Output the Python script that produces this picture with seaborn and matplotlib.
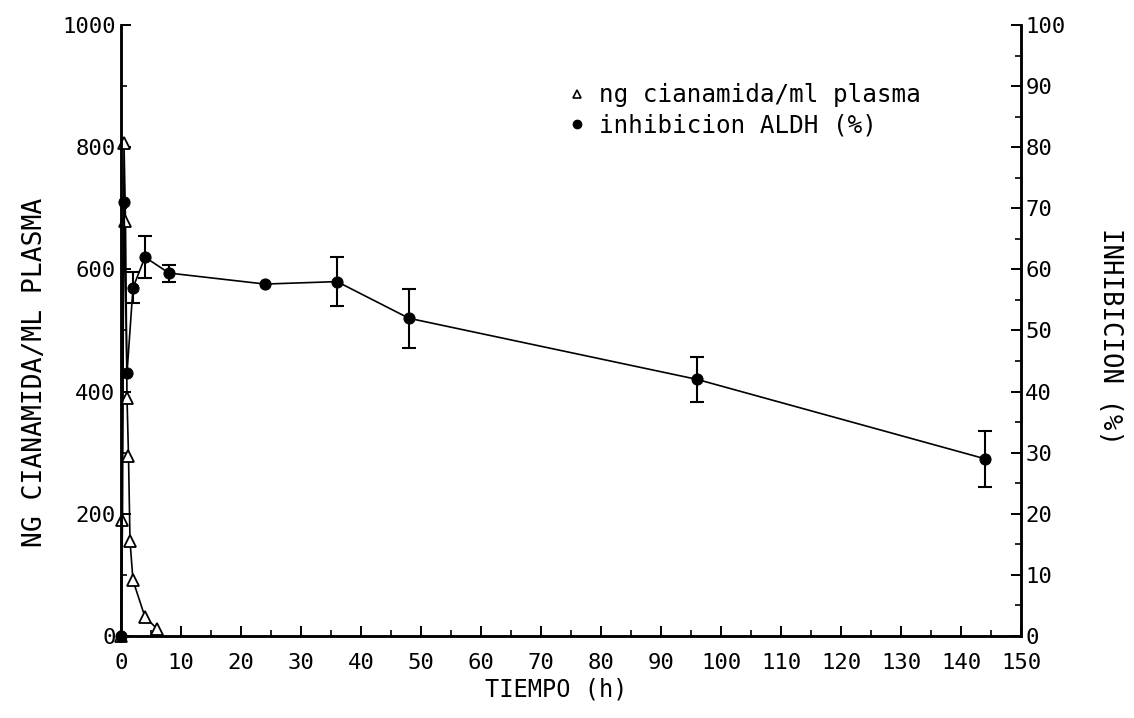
import numpy as np
import matplotlib
matplotlib.use("Agg")
import matplotlib.pyplot as plt
from matplotlib.lines import Line2D
import seaborn as sns

# Plasma cyanamide concentration (ng/ml) over time (h)
t_cian = [0, 0.25, 0.5, 0.75, 1, 1.25, 1.5, 2, 4, 6]
cianamida = [0, 190, 807, 679, 390, 295, 156, 91, 31, 12]

# ALDH inhibition (%) over time (h), with error bars
t_inh = [0, 0.5, 1, 2, 4, 8, 24, 36, 48, 96, 144]
inhibicion = [0, 71, 43, 57, 62, 59.4, 57.6, 58, 52, 42, 29]
err_inh = [0, 0, 0, 2.5, 3.4, 1.4, 0, 4, 4.8, 3.7, 4.6]

x_ticks = list(range(0, 151, 10))
left_ticks = list(range(0, 1001, 200))
right_ticks = list(range(0, 101, 10))

sns.set_style("ticks")
plt.rcParams["font.family"] = ["DejaVu Sans Mono"]
plt.rcParams["text.color"] = "black"
plt.rcParams["axes.labelcolor"] = "black"
plt.rcParams["xtick.color"] = "black"
plt.rcParams["ytick.color"] = "black"
plt.rcParams["axes.edgecolor"] = "black"

fig = plt.figure(figsize=(11.34, 7.18), dpi=100)
ax = fig.add_axes([0.1067, 0.1142, 0.7937, 0.851])
ax2 = ax.twinx()

sns.lineplot(x=t_cian, y=cianamida, ax=ax, color="black", linewidth=1.2,
             marker="^", markersize=9, markerfacecolor="white",
             markeredgecolor="black", markeredgewidth=1.3, clip_on=False)

sns.lineplot(x=t_inh, y=inhibicion, ax=ax2, color="black", linewidth=1.2,
             marker="o", markersize=8, markerfacecolor="black",
             markeredgecolor="black", clip_on=False)

t_arr = np.array(t_inh)
v_arr = np.array(inhibicion)
e_arr = np.array(err_inh)
m = e_arr > 0
ax2.errorbar(t_arr[m], v_arr[m], yerr=e_arr[m], fmt="none", ecolor="black",
             elinewidth=1.5, capsize=5, capthick=1.5)

ax.set_xlim(0, 150)
ax.set_ylim(0, 1000)
ax2.set_ylim(0, 100)

ax.set_xticks(x_ticks)
ax.set_xticks(np.arange(0, 151, 5), minor=True)
ax.set_yticks(left_ticks)
ax.set_yticks(np.arange(0, 1001, 100), minor=True)
ax2.set_yticks(right_ticks)
ax2.set_yticks(np.arange(0, 101, 5), minor=True)

for a in (ax, ax2):
    a.spines["top"].set_visible(False)
    for s in a.spines.values():
        s.set_linewidth(1.8)
        s.set_color("black")
    a.tick_params(which="major", direction="in", length=7, width=1.4,
                  labelsize=16, colors="black")
    a.tick_params(which="minor", direction="in", length=4, width=1.2)

ax.tick_params(axis="x", which="major", pad=12)
ax.tick_params(axis="y", which="major", pad=4)
ax2.tick_params(axis="y", which="major", pad=3)
ax2.grid(False)
ax.grid(False)

ax.set_xlabel("TIEMPO (h)", fontsize=17, color="black")
ax.xaxis.set_label_coords(0.484, -0.068)
ax.set_ylabel("NG CIANAMIDA/ML PLASMA", fontsize=19, rotation=90, color="black",
              ha="center", va="center", rotation_mode="default")
ax.yaxis.set_label_coords(-0.096, 0.432)
ax2.set_ylabel("INHIBICION (%)", fontsize=18.5, rotation=-90, color="black",
               ha="center", va="center", rotation_mode="default")
ax2.yaxis.set_label_coords(1.099, 0.49)

handles = [
    Line2D([], [], linestyle="none", marker="^", markersize=6,
           markerfacecolor="white", markeredgecolor="black", markeredgewidth=1.2),
    Line2D([], [], linestyle="none", marker="o", markersize=6,
           markerfacecolor="black", markeredgecolor="black"),
]
labels = ["ng cianamida/ml plasma", "inhibicion ALDH (%)"]
leg = fig.legend(handles, labels, loc="upper left", bbox_to_anchor=(0.498, 0.884),
                 bbox_transform=fig.transFigure, frameon=False, fontsize=17.5,
                 borderpad=0, handlelength=1.0, handletextpad=0.4,
                 labelspacing=0.25, borderaxespad=0)
for txt in leg.get_texts():
    txt.set_color("black")

fig.savefig("out.png", dpi=100, facecolor="white")
